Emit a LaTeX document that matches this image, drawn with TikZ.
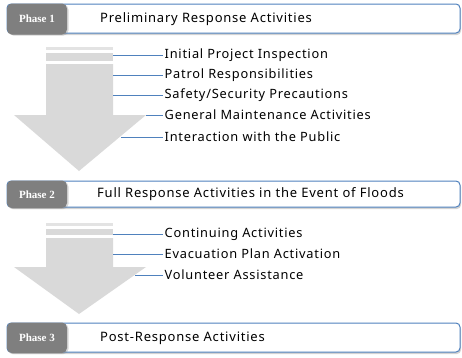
\documentclass[tikz,border=0pt]{standalone}
\usepackage{fontspec}
\setmainfont{Noto Sans}[LetterSpace=6]
\newfontfamily\phasefont{Liberation Serif}
\usetikzlibrary{shadows}
\definecolor{barblue}{HTML}{4F81BD}
\definecolor{tabgray}{HTML}{7F7F7F}
\definecolor{arrowgray}{HTML}{D9D9D9}
\definecolor{stripegray}{HTML}{E3E3E3}
\begin{document}
\begin{tikzpicture}[x=1pt,y=-1pt,
  bar/.style={draw=barblue,line width=1pt,fill=white,rounded corners=4pt,drop shadow={shadow xshift=1pt,shadow yshift=-2pt,opacity=0.35}},
  tab/.style={fill=tabgray,rounded corners=5pt,drop shadow={shadow xshift=1.5pt,shadow yshift=-1pt,opacity=0.3}},
  phaselbl/.style={text=white,font=\phasefont\bfseries\fontsize{11}{12}\selectfont,inner sep=0pt},
  title/.style={anchor=west,inner sep=0pt,font=\fontsize{13}{15}\selectfont},
  item/.style={anchor=west,inner sep=1.5pt,font=\fontsize{12.8}{14}\selectfont},
  conn/.style={draw=barblue,line width=0.8pt},
  bigarrow/.style={fill=arrowgray,draw=none}]
\useasboundingbox (0,0) rectangle (462,357);
% ---------- Phase 1 ----------
\draw[bar] (7,4) rectangle (460,33);
\fill[tab] (7,3.5) rectangle (67,34.5);
\node[phaselbl] (p1) at (37,19) {Phase 1};
\node[title] (t1) at (100,19) {Preliminary Response Activities};
% arrow 1
\fill[stripegray] (46,47) rectangle (113,50);
\fill[arrowgray] (46,53) rectangle (113,61);
\fill[bigarrow] (46,64) -- (113,64) -- (113,115) -- (146,115) -- (79,171) -- (14,115) -- (46,115) -- cycle;
\coordinate (a1) at (113,55);
\coordinate (a2) at (113,75);
\coordinate (a3) at (113,95);
\coordinate (a4) at (146,115);
\coordinate (a5) at (121,137);
\node[item] (i1) at (163,55) {Initial Project Inspection};
\node[item] (i2) at (163,75) {Patrol Responsibilities};
\node[item] (i3) at (163,95) {Safety/Security Precautions};
\node[item] (i4) at (163,115) {General Maintenance Activities};
\node[item] (i5) at (163,137) {Interaction with the Public};
\foreach \k in {1,...,5}{\draw[conn] (a\k) -- (i\k.west);}
% ---------- Phase 2 ----------
\draw[bar] (7,181) rectangle (460,207);
\fill[tab] (7,180.5) rectangle (67,208);
\node[phaselbl] (p2) at (37,194.5) {Phase 2};
\node[title] (t2) at (97,194.5) {Full Response Activities in the Event of Floods};
% arrow 2
\fill[stripegray] (46,223) rectangle (113,226);
\fill[arrowgray] (46,229) rectangle (113,235);
\fill[bigarrow] (46,238) -- (113,238) -- (113,267) -- (146,267) -- (79,314) -- (14,267) -- (46,267) -- cycle;
\coordinate (b1) at (113,234);
\coordinate (b2) at (113,254);
\coordinate (b3) at (135,275);
\node[item] (j1) at (163,234) {Continuing Activities};
\node[item] (j2) at (163,254) {Evacuation Plan Activation};
\node[item] (j3) at (163,275) {Volunteer Assistance};
\foreach \k in {1,2,3}{\draw[conn] (b\k) -- (j\k.west);}
% ---------- Phase 3 ----------
\draw[bar] (7,323) rectangle (460,352);
\fill[tab] (7,322.5) rectangle (67,353);
\node[phaselbl] (p3) at (37,338) {Phase 3};
\node[title] (t3) at (100,338) {Post-Response Activities};
\end{tikzpicture}
\end{document}
